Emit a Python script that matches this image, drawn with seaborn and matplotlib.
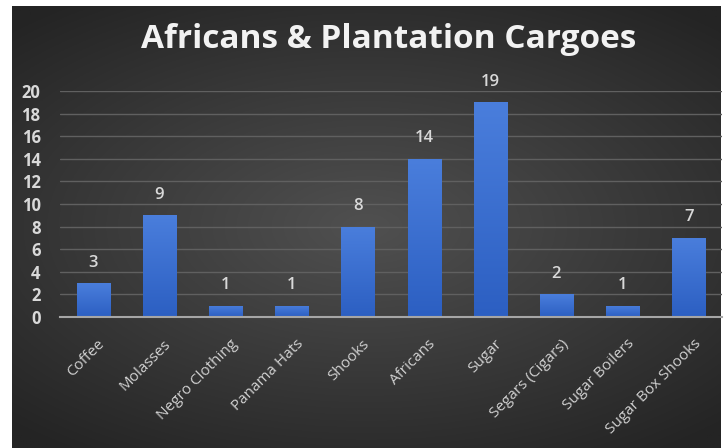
import numpy as np
import pandas as pd
import matplotlib
matplotlib.use("Agg")
import matplotlib.pyplot as plt
import matplotlib.transforms as mtransforms
import seaborn as sns

categories = ["Coffee", "Molasses", "Negro Clothing", "Panama Hats", "Shooks",
              "Africans", "Sugar", "Segars (Cigars)", "Sugar Boilers", "Sugar Box Shooks"]
values = [3, 9, 1, 1, 8, 14, 19, 2, 1, 7]
yticks = [0, 2, 4, 6, 8, 10, 12, 14, 16, 18, 20]
title = "Africans & Plantation Cargoes"

df = pd.DataFrame({"cat": categories, "val": values})

sns.set_theme(style="dark")
plt.rcParams["font.family"] = ["Open Sans", "DejaVu Sans"]

W, H = 7.24, 4.48
fig = plt.figure(figsize=(W, H), dpi=100, facecolor="white")

# background panel with radial gradient
bg = fig.add_axes([12/724, 0, 1 - 15/724, 1 - 6/448])
bg.set_axis_off()
yy, xx = np.mgrid[-1:1:300j, -1:1:480j]
r = np.sqrt((xx * 0.85) ** 2 + (yy * 1.0) ** 2)
r = np.clip(r / 1.25, 0, 1)
c_in = np.array([0x50, 0x50, 0x50]) / 255
c_out = np.array([0x24, 0x24, 0x24]) / 255
img = c_in[None, None, :] * (1 - r[..., None]) + c_out[None, None, :] * r[..., None]
bg.imshow(img, aspect="auto", extent=[0, 1, 0, 1], origin="upper")
bg.set_xlim(0, 1); bg.set_ylim(0, 1)

ax = fig.add_axes([60/724, 1 - 317/448, (722 - 60)/724, (317 - 91)/448])
ax.patch.set_alpha(0)
sns.barplot(data=df, x="cat", y="val", ax=ax, color="#3b6fd4", width=0.5,
            saturation=1, linewidth=0, edgecolor="none", zorder=3)

# gradient on bars
grad = np.linspace(0, 1, 100)[:, None]
top_c = np.array([0x4a, 0x7e, 0xdc]) / 255
bot_c = np.array([0x2c, 0x5f, 0xc2]) / 255
gimg = top_c[None, None, :] * (1 - grad[..., None]) + bot_c[None, None, :] * grad[..., None]
for p in ax.patches:
    x0, y0 = p.get_x(), p.get_y()
    w, h = p.get_width(), p.get_height()
    im = ax.imshow(gimg, aspect="auto", extent=[x0, x0 + w, y0, y0 + h],
                   origin="upper", zorder=4)
    im.set_clip_path(p)

ax.set_xlim(-0.5, len(categories) - 0.5)
ax.set_ylim(0, 20)
ax.set_yticks(yticks)
ax.set_xlabel(""); ax.set_ylabel("")
ax.grid(axis="y", color="#606060", linewidth=1.0, zorder=0)
ax.grid(axis="x", visible=False)
for s in ["top", "right", "left"]:
    ax.spines[s].set_visible(False)
ax.spines["bottom"].set_color("#a6a6a6")
ax.spines["bottom"].set_linewidth(1.5)
ax.spines["bottom"].set_zorder(5)
ax.tick_params(axis="both", length=0)
ax.tick_params(axis="y", colors="#d9d9d9", labelsize=12, pad=14)
for t in ax.get_yticklabels():
    t.set_fontweight("bold")
    t.set_color("#d9d9d9")

ax.set_xticks(range(len(categories)))
ax.set_xticklabels(categories, rotation=45, ha="right", rotation_mode="anchor",
                   color="#d0d0d0", fontsize=11)
ax.tick_params(axis="x", pad=2)
off = mtransforms.ScaledTranslation(3/72, -12/72, fig.dpi_scale_trans)
for t in ax.get_xticklabels():
    t.set_transform(t.get_transform() + off)

for i, v in enumerate(values):
    ax.annotate(str(v), (i, v), xytext=(0, 9), textcoords="offset points",
                ha="center", va="bottom", color="#d9d9d9", fontsize=12,
                fontweight="semibold", annotation_clip=False)

fig.text(389/724, 1 - 40/448, title, ha="center", va="center", color="#f2f2f2",
         fontsize=24, fontweight="bold")

fig.savefig("out.png", dpi=100, facecolor="white")
